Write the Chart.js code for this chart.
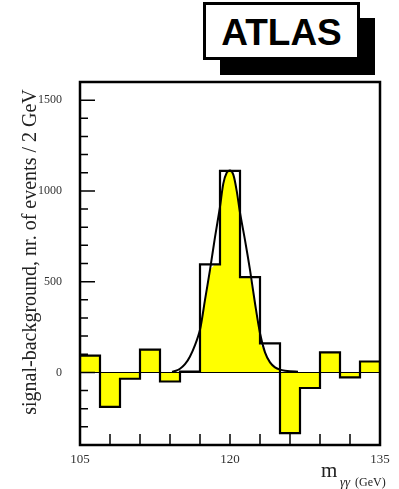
<!DOCTYPE html>
<html>
<head>
<meta charset="utf-8">
<script src="https://cdn.jsdelivr.net/npm/chart.js@4/dist/chart.umd.min.js"></script>
<style>
html, body { margin: 0; padding: 0; background: #fff; }
#wrap { position: relative; width: 399px; height: 489px; overflow: hidden; }
#chart { position: absolute; left: 0; top: 0; }
#atlasShadow { position: absolute; left: 220px; top: 18px; width: 155px; height: 57px; background: #000; }
#atlas { position: absolute; left: 203px; top: 2px; width: 151px; height: 52px; border: 3px solid #000; background: #fff;
	font: bold 37px "Liberation Sans", Arial, sans-serif; text-align: center; line-height: 55px; color: #000; }
</style>
</head>
<body>
<div id="wrap">
	<canvas id="chart" width="399" height="489"></canvas>
	<div id="atlasShadow"></div>
	<div id="atlas">ATLAS</div>
</div>
<script>
// histogram: signal - background, 2 GeV bins from 105 to 135
const binLow = 105
const binWidth = 2
const counts = [92, -190, -35, 125, -50, 5, 595, 1110, 525, 160, -335, -86, 110, -27, 60]

// fitted signal curve
const fitX = [114.2, 114.6, 115, 115.5, 116, 116.5, 117, 117.5, 118, 118.5, 119, 119.33, 119.67, 120, 120.33, 120.67, 121, 121.5, 122, 122.5, 123, 123.5, 124, 124.5, 125, 125.5, 126, 126.8]
const fitY = [4, 9, 20, 45, 88, 150, 235, 400, 565, 745, 912, 1040, 1100, 1112, 1090, 1000, 880, 729, 565, 381, 216, 110, 55, 28, 15, 9, 6, 4]

// bins where the yellow fill stops at the fitted curve
const clippedBins = [6, 7, 8, 9]

const xTickLabels = [105, 120, 135]
const yTickLabels = [0, 500, 1000, 1500]

const serif = "'Liberation Serif', 'Times New Roman', serif"

function histOutline() {
	let pts = []
	for(let i = 0; i < counts.length; i++) {
		let lo = binLow + i * binWidth
		pts.push({x: lo, y: counts[i]}, {x: lo + binWidth, y: counts[i]})
	}
	return pts
}

function histFill() {
	let pts = []
	for(let i = 0; i < counts.length; i++) {
		let lo = binLow + i * binWidth
		let hi = lo + binWidth
		if(clippedBins.includes(i)) {
			for(let k = 0; k < fitX.length; k++) {
				if(fitX[k] >= lo && fitX[k] <= hi) {
					pts.push({x: fitX[k], y: Math.min(counts[i], fitY[k])})
				}
			}
		} else {
			pts.push({x: lo, y: counts[i]}, {x: hi, y: counts[i]})
		}
	}
	return pts
}

const frame = {
	id: "frame",
	afterDatasetsDraw(chart) {
		const {ctx, chartArea: a, scales: {x, y}} = chart
		ctx.save()
		// zero line
		ctx.strokeStyle = "#000"
		ctx.lineWidth = 1
		let y0 = Math.round(y.getPixelForValue(0)) + 0.5
		ctx.beginPath()
		ctx.moveTo(a.left, y0)
		ctx.lineTo(a.right, y0)
		ctx.stroke()

		// inward ticks
		ctx.lineWidth = 1.5
		ctx.beginPath()
		for(let t of y.ticks) {
			let py = y.getPixelForValue(t.value)
			let len = t.value % 500 === 0 ? 15 : 8
			ctx.moveTo(a.left, py)
			ctx.lineTo(a.left + len, py)
		}
		for(let t of x.ticks) {
			if(t.value <= x.min || t.value >= x.max) continue
			let px = x.getPixelForValue(t.value)
			ctx.moveTo(px, a.bottom)
			ctx.lineTo(px, a.bottom - 11)
		}
		ctx.stroke()

		// box
		ctx.lineWidth = 2.5
		ctx.strokeRect(a.left, a.top, a.right - a.left, a.bottom - a.top)

		// axis titles
		ctx.fillStyle = "#222"
		ctx.textBaseline = "alphabetic"
		ctx.font = "21px " + serif
		ctx.textAlign = "left"
		ctx.fillText("m", 321, 477)
		ctx.font = "italic 13px " + serif
		ctx.fillText("\u03b3\u03b3", 340, 486)
		ctx.font = "12px " + serif
		ctx.fillText("(GeV)", 355, 486)

		ctx.translate(36, 252)
		ctx.rotate(-Math.PI / 2)
		ctx.textAlign = "center"
		ctx.font = "20px " + serif
		ctx.fillText("signal-background, nr. of events / 2 GeV", 0, 0)
		ctx.restore()
	}
}

new Chart(document.getElementById("chart"), {
	type: "line",
	data: {
		datasets: [{
			data: histOutline(),
			borderColor: "#000",
			borderWidth: 2.2,
			pointRadius: 0,
			fill: false,
			order: 0
		}, {
			data: fitX.map((v, i) => ({x: v, y: fitY[i]})),
			borderColor: "#000",
			borderWidth: 2,
			pointRadius: 0,
			tension: 0.3,
			fill: false,
			order: 1
		}, {
			data: histFill(),
			borderWidth: 0,
			borderColor: "rgba(0,0,0,0)",
			backgroundColor: "#ffff00",
			pointRadius: 0,
			fill: "origin",
			order: 2
		}]
	},
	options: {
		responsive: false,
		animation: false,
		layout: { padding: { top: 82, right: 19, left: 0, bottom: 0 } },
		plugins: { legend: { display: false }, tooltip: { enabled: false } },
		scales: {
			x: {
				type: "linear",
				min: 105,
				max: 135,
				afterFit: (s) => { s.height = 44 },
				grid: { display: false, drawTicks: false },
				border: { display: false },
				ticks: {
					stepSize: 3,
					autoSkip: false,
					maxRotation: 0,
					padding: 7,
					color: "#333",
					font: { family: serif, size: 13 },
					callback: (v) => xTickLabels.includes(v) ? String(v) : ""
				}
			},
			y: {
				type: "linear",
				min: -400,
				max: 1600,
				afterFit: (s) => { s.width = 80 },
				grid: { display: false, drawTicks: false },
				border: { display: false },
				ticks: {
					stepSize: 100,
					autoSkip: false,
					padding: 18,
					color: "#333",
					font: { family: serif, size: 12 },
					callback: (v) => yTickLabels.includes(v) ? String(v) : ""
				}
			}
		}
	},
	plugins: [frame]
})
</script>
</body>
</html>
